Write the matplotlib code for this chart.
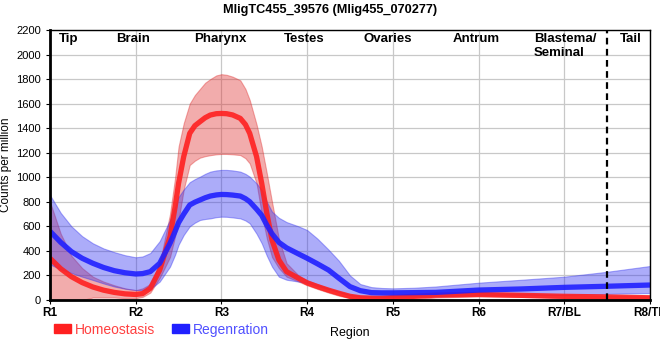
import matplotlib
matplotlib.use("Agg")
import matplotlib.pyplot as plt
from matplotlib.patches import Patch

plt.rcParams['font.family'] = ['Liberation Sans', 'DejaVu Sans']

# positions along the body (0 = R1 ... 7 = R8/TL)
pos = [0, 0.125, 0.25, 0.375, 0.5, 0.625, 0.75, 0.875, 1.0,
       1.08, 1.17, 1.28, 1.4, 1.46, 1.5, 1.56, 1.63,
       1.69, 1.75, 1.81, 1.87, 1.94, 2.0, 2.06, 2.13,
       2.22, 2.28, 2.33, 2.41, 2.47, 2.53, 2.59, 2.67,
       2.76, 2.9, 3.0, 3.12, 3.25, 3.37, 3.5, 3.62,
       3.75, 3.87, 4.0, 4.25, 4.5, 5.0, 5.5, 6.0,
       6.5, 7.0]

homeo = [340, 255, 190, 142, 106, 80, 62, 50, 45,
         52, 95, 244, 516, 760, 951, 1168, 1358,
         1420, 1453, 1485, 1507, 1518, 1520, 1518, 1508,
         1480, 1430, 1358, 1168, 951, 706, 489, 326,
         231, 177, 140, 110, 80, 55, 30, 18,
         15, 15, 20, 30, 40, 45, 38, 30,
         25, 18]
homeo_hi = [800, 540, 360, 260, 190, 150, 120, 95, 80,
            95, 130, 300, 700, 1000, 1250, 1440, 1600,
            1670, 1720, 1770, 1800, 1830, 1840, 1835, 1820,
            1790, 1720, 1630, 1430, 1250, 1030, 800, 500,
            300, 200, 160, 128, 95, 68, 40, 28,
            25, 28, 35, 45, 55, 60, 50, 40,
            35, 30]
homeo_lo = [-80, -50, -20, 0, 20, 20, 20, 15, 15,
            25, 60, 180, 350, 520, 650, 900, 1100,
            1135, 1160, 1172, 1180, 1187, 1190, 1190, 1187,
            1181, 1155, 1113, 950, 700, 500, 350, 260,
            190, 150, 120, 90, 60, 35, 15, -5,
            -10, -12, -10, 5, 20, 30, 25, 15,
            10, 5]

regen = [560, 470, 394, 340, 299, 265, 239, 222, 212,
         215, 231, 299, 462, 560, 630, 700, 774,
         797, 815, 833, 847, 856, 860, 859, 855,
         847, 826, 801, 740, 690, 610, 540, 470,
         425, 375, 340, 295, 244, 178, 109, 76,
         60, 58, 58, 60, 62, 81, 90, 103,
         112, 122]
regen_hi = [855, 710, 600, 520, 462, 420, 390, 365, 348,
            355, 383, 480, 652, 760, 840, 900, 960,
            985, 1005, 1028, 1046, 1056, 1060, 1060, 1056,
            1046, 1028, 1005, 950, 896, 800, 720, 670,
            635, 600, 570, 500, 410, 320, 200, 130,
            105, 98, 95, 100, 110, 141, 165, 190,
            230, 277]
regen_lo = [290, 250, 220, 190, 163, 135, 110, 92, 81,
            82, 90, 150, 272, 370, 450, 530, 600,
            630, 652, 660, 665, 675, 679, 678, 673,
            665, 648, 625, 540, 462, 360, 272, 190,
            165, 150, 140, 115, 90, 65, 41, 32,
            30, 28, 27, 28, 30, 41, 41, 41,
            50, 57]

tick_labels = ['R1', 'R2', 'R3', 'R4', 'R5', 'R6', 'R7/BL', 'R8/TL']
region_names = ['Tip', 'Brain', 'Pharynx', 'Testes', 'Ovaries', 'Antrum', 'Blastema/\nSeminal', 'Tail']
region_pos = [0.22, 0.97, 1.99, 2.96, 3.94, 4.97, 6.01, 6.78]

fig = plt.figure(figsize=(6.6, 3.6), dpi=100)
ax = fig.add_axes([50/660, 60/360, 600/660, 270/360])

red = '#ff2020'
blue = '#2020ff'

ax.fill_between(pos, homeo_lo, homeo_hi, color='#e03030', alpha=0.4, lw=0.8)
ax.fill_between(pos, regen_lo, regen_hi, color='#3030f0', alpha=0.4, lw=0.8)
ax.plot(pos, homeo, color=red, lw=3.8, alpha=0.9, solid_capstyle='butt', solid_joinstyle='round')
ax.plot(pos, regen, color=blue, lw=3.8, alpha=0.9, solid_capstyle='butt', solid_joinstyle='round')

ax.axvline(6.5, color='black', ls=(0, (3, 2)), lw=1.6)

ax.set_xlim(0, 7)
ax.set_ylim(0, 2200)
ax.set_xticks(range(8))
ax.set_xticklabels(tick_labels, fontsize=8.5, fontweight='bold')
ax.set_yticks(range(0, 2201, 200))
ax.tick_params(axis='y', labelsize=8, length=3)
ax.tick_params(axis='x', length=3, pad=2)
ax.grid(True, color='#c8c8c8', lw=0.9)
ax.set_axisbelow(True)

ax.spines['left'].set_linewidth(2)
ax.spines['bottom'].set_linewidth(2)
ax.spines['top'].set_linewidth(1)
ax.spines['right'].set_linewidth(1)

for name, p in zip(region_names, region_pos):
    ax.text(p, 2175, name, ha='center', va='top', fontsize=9.5, fontweight='bold',
            multialignment='left')

ax.set_ylabel('Counts per million', fontsize=8.5, labelpad=3)
ax.set_xlabel('Region', fontsize=9, labelpad=6)
fig.suptitle('MligTC455_39576 (Mlig455_070277)', fontsize=9.2, fontweight='bold', y=0.99)

handles = [Patch(color=red), Patch(color=blue)]
ax.legend(handles, ['Homeostasis', 'Regenration'], ncol=2, frameon=False,
          loc='center left', bbox_to_anchor=(-0.014, -0.11), fontsize=10,
          handlelength=1.2, handleheight=0.6, handletextpad=0.3, columnspacing=1.2,
          labelcolor=['#ff4040', '#5050ff'])

fig.savefig('out.png', dpi=100)
